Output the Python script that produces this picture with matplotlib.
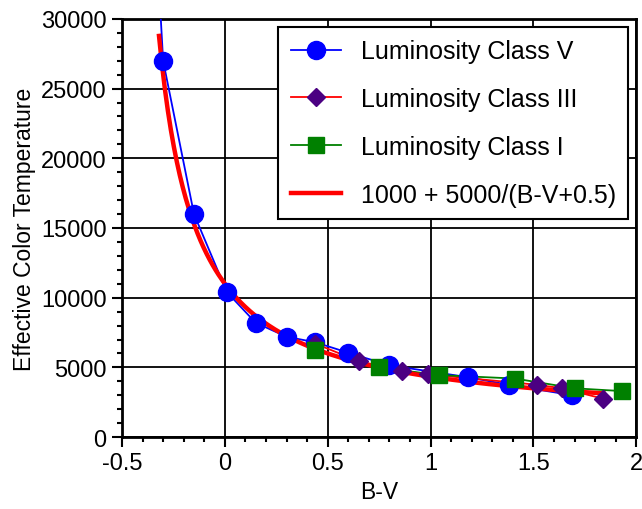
import numpy as np
import matplotlib
matplotlib.use("Agg")
import matplotlib.pyplot as plt
from matplotlib.lines import Line2D
from matplotlib.ticker import MultipleLocator

plt.rcParams['font.family'] = ['Liberation Sans', 'DejaVu Sans']

# luminosity class V (main sequence)
bv_v = [-0.33, -0.30, -0.15, 0.01, 0.15, 0.30, 0.44, 0.60, 0.80, 1.18, 1.38, 1.69]
t_v = [35000, 27000, 16000, 10400, 8200, 7200, 6800, 6050, 5150, 4300, 3750, 3000]

# luminosity class III (giants)
bv_iii = [0.44, 0.65, 0.86, 0.99, 1.52, 1.64, 1.84]
t_iii = [6700, 5450, 4750, 4500, 3750, 3500, 2750]

# luminosity class I (supergiants)
bv_i = [0.44, 0.75, 1.04, 1.41, 1.70, 1.93]
t_i = [6250, 5000, 4450, 4200, 3500, 3300]

# fit curve
bv_fit = np.linspace(-0.32, 1.84, 300)
t_fit = 1000 + 5000 / (bv_fit + 0.5)

fig = plt.figure(figsize=(6.42, 5.10), dpi=100)
ax = fig.add_axes([0.19, 0.141, 0.801, 0.82])

# lines first, markers on top
ax.plot(bv_v, t_v, color='blue', lw=1.3, zorder=3)
ax.plot(bv_iii, t_iii, color='red', lw=1.3, zorder=3)
ax.plot(bv_i, t_i, color='green', lw=1.3, zorder=3)
ax.plot(bv_fit, t_fit, color='red', lw=3.2, zorder=4)
ax.plot(bv_v, t_v, ls='none', marker='o', ms=13, color='blue', zorder=5)
ax.plot(bv_iii, t_iii, ls='none', marker='D', ms=9.5, color='#4B0082', zorder=6)
ax.plot(bv_i, t_i, ls='none', marker='s', ms=11.5, color='green', zorder=7)

ax.set_xlim(-0.5, 2)
ax.set_ylim(0, 30000)
ax.xaxis.set_minor_locator(MultipleLocator(0.1))
ax.yaxis.set_major_locator(MultipleLocator(5000))
ax.yaxis.set_minor_locator(MultipleLocator(1000))
ax.set_xticks([-0.5, 0, 0.5, 1, 1.5, 2])
ax.set_xticklabels(['-0.5', '0', '0.5', '1', '1.5', '2'])
ax.tick_params(which='major', direction='out', length=7, width=1.5, labelsize=17, pad=4)
ax.tick_params(which='minor', direction='out', length=3.6, width=1.5)
ax.grid(True, which='major', color='black', lw=1.3)
ax.set_axisbelow(True)
for s in ax.spines.values():
    s.set_linewidth(2)

ax.set_xlabel('B-V', fontsize=16.5, labelpad=4)
ax.set_ylabel('Effective Color Temperature', fontsize=16.5, labelpad=4)

handles = [
    Line2D([], [], color='blue', lw=1.3, marker='o', ms=13),
    Line2D([], [], color='red', lw=1.3, marker='D', ms=9.5, mfc='#4B0082', mec='#4B0082'),
    Line2D([], [], color='green', lw=1.3, marker='s', ms=11.5),
    Line2D([], [], color='red', lw=3.2),
]
labels = ['Luminosity Class V', 'Luminosity Class III', 'Luminosity Class I',
          '1000 + 5000/(B-V+0.5)']
leg = ax.legend(handles, labels, loc='upper right', bbox_to_anchor=(1, 1),
                borderaxespad=0.32, fontsize=18, frameon=True, fancybox=False,
                framealpha=1, edgecolor='black', labelspacing=0.95,
                handlelength=2.0, handletextpad=0.8, borderpad=0.5)
leg.get_frame().set_linewidth(1.5)
leg.set_zorder(10)

fig.savefig('out.png', dpi=100)
